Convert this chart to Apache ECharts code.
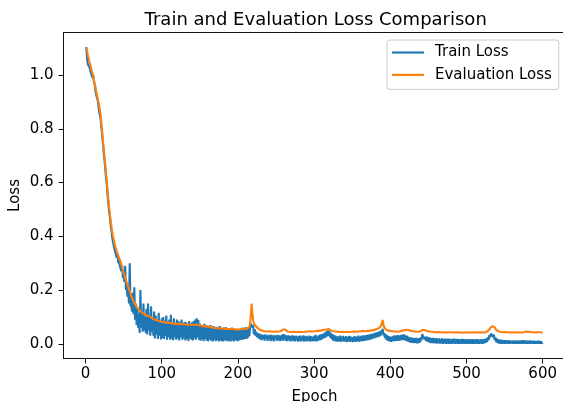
<!DOCTYPE html>
<html>
<head>
<meta charset="utf-8">
<script src="https://cdn.jsdelivr.net/npm/echarts@6/dist/echarts.min.js"></script>
<style>html,body{margin:0;padding:0;background:#fff}#c{width:563px;height:402px}</style>
</head>
<body>
<div id="c"></div>
<script>
const TITLE = "Train and Evaluation Loss Comparison";
const X_NAME = "Epoch";
const Y_NAME = "Loss";
const SERIES_NAMES = ["Train Loss", "Evaluation Loss"];
const X_TICKS = [0, 100, 200, 300, 400, 500, 600];
const Y_TICKS = [0.0, 0.2, 0.4, 0.6, 0.8, 1.0];
const X_RANGE = [-28.95, 629.95];
const Y_RANGE = [-0.0547, 1.1586];

const trainLoss = [
1.104,1.060,1.040,1.045,1.030,1.035,1.010,1.000,0.990,1.002,
0.975,0.965,0.940,0.945,0.915,0.905,0.885,0.860,0.850,0.830,
0.800,0.770,0.740,0.705,0.680,0.645,0.615,0.590,0.550,0.520,
0.490,0.470,0.440,0.420,0.395,0.390,0.365,0.360,0.340,0.345,
0.320,0.330,0.300,0.310,0.290,0.295,0.270,0.290,0.245,0.260,
0.230,0.290,0.200,0.220,0.175,0.205,0.150,0.300,0.140,0.150,
0.120,0.190,0.110,0.210,0.090,0.150,0.070,0.130,0.060,0.110,
0.040,0.200,0.060,0.120,0.045,0.150,0.050,0.100,0.040,0.130,
0.035,0.150,0.050,0.110,0.030,0.140,0.045,0.095,0.030,0.120,
0.020,0.105,0.035,0.090,0.018,0.115,0.030,0.080,0.016,0.095,
0.022,0.100,0.018,0.085,0.030,0.105,0.015,0.075,0.025,0.090,
0.015,0.108,0.020,0.080,0.013,0.095,0.025,0.075,0.015,0.090,
0.020,0.085,0.012,0.078,0.025,0.090,0.015,0.072,0.020,0.082,
0.012,0.080,0.018,0.070,0.011,0.085,0.020,0.075,0.015,0.080,
0.012,0.085,0.020,0.090,0.015,0.095,0.025,0.088,0.015,0.075,
0.012,0.070,0.016,0.066,0.010,0.074,0.018,0.060,0.012,0.068,
0.010,0.064,0.016,0.070,0.012,0.060,0.009,0.066,0.015,0.058,
0.010,0.063,0.014,0.056,0.009,0.066,0.012,0.054,0.010,0.060,
0.009,0.056,0.014,0.062,0.010,0.052,0.012,0.058,0.009,0.054,
0.010,0.060,0.012,0.052,0.009,0.056,0.014,0.050,0.010,0.054,
0.012,0.052,0.014,0.056,0.015,0.060,0.016,0.055,0.018,0.062,
0.018,0.056,0.022,0.060,0.028,0.064,0.075,0.080,0.060,0.070,
0.035,0.055,0.030,0.045,0.025,0.040,0.020,0.038,0.017,0.035,
0.014,0.034,0.018,0.032,0.012,0.035,0.020,0.030,0.011,0.033,
0.016,0.031,0.010,0.034,0.015,0.029,0.009,0.032,0.017,0.030,
0.011,0.033,0.014,0.031,0.010,0.030,0.013,0.034,0.012,0.036,
0.016,0.033,0.011,0.030,0.010,0.031,0.014,0.029,0.009,0.030,
0.012,0.031,0.010,0.028,0.009,0.030,0.013,0.027,0.008,0.029,
0.011,0.030,0.009,0.027,0.012,0.031,0.008,0.028,0.011,0.029,
0.009,0.027,0.012,0.030,0.008,0.028,0.011,0.026,0.009,0.029,
0.011,0.033,0.009,0.027,0.012,0.031,0.013,0.034,0.015,0.036,
0.018,0.038,0.021,0.042,0.023,0.046,0.028,0.050,0.030,0.047,
0.024,0.041,0.017,0.036,0.012,0.032,0.010,0.030,0.009,0.028,
0.008,0.028,0.010,0.030,0.007,0.027,0.011,0.029,0.008,0.026,
0.009,0.028,0.006,0.026,0.010,0.029,0.007,0.027,0.009,0.025,
0.006,0.027,0.009,0.028,0.007,0.026,0.010,0.030,0.008,0.027,
0.009,0.029,0.011,0.031,0.010,0.030,0.012,0.032,0.013,0.033,
0.014,0.034,0.016,0.036,0.017,0.037,0.019,0.039,0.021,0.041,
0.023,0.042,0.025,0.044,0.027,0.046,0.029,0.050,0.038,0.056,
0.031,0.041,0.021,0.036,0.015,0.031,0.011,0.028,0.009,0.026,
0.007,0.027,0.009,0.029,0.011,0.031,0.010,0.030,0.012,0.032,
0.011,0.030,0.013,0.032,0.014,0.034,0.015,0.035,0.013,0.031,
0.011,0.029,0.008,0.026,0.006,0.024,0.004,0.023,0.005,0.022,
0.003,0.021,0.004,0.022,0.002,0.020,0.003,0.021,0.005,0.024,
0.013,0.036,0.027,0.034,0.017,0.026,0.010,0.027,0.008,0.025,
0.005,0.023,0.003,0.021,0.004,0.022,0.002,0.020,0.003,0.021,
0.001,0.019,0.003,0.020,0.001,0.018,0.002,0.020,0.000,0.018,
0.002,0.019,0.000,0.018,0.001,0.019,0.000,0.017,0.001,0.018,
0.000,0.018,0.002,0.019,0.000,0.017,0.001,0.018,0.000,0.017,
0.000,0.016,0.001,0.018,0.000,0.017,0.000,0.016,0.001,0.017,
0.000,0.016,0.000,0.017,0.001,0.016,0.000,0.017,0.000,0.016,
0.000,0.016,0.001,0.017,0.000,0.015,0.000,0.016,0.001,0.017,
0.000,0.016,0.002,0.018,0.004,0.020,0.007,0.024,0.014,0.032,
0.024,0.038,0.032,0.041,0.026,0.034,0.014,0.024,0.006,0.019,
0.003,0.016,0.001,0.015,0.000,0.014,0.001,0.013,0.000,0.013,
0.000,0.012,0.001,0.013,0.000,0.012,0.000,0.011,0.001,0.012,
0.000,0.011,0.000,0.012,0.001,0.011,0.000,0.012,0.000,0.011,
0.000,0.012,0.001,0.013,0.000,0.011,0.001,0.012,0.000,0.011,
0.000,0.011,0.000,0.012,0.001,0.010,0.000,0.011,0.000,0.010,
0.000,0.010,0.001,0.011,0.000,0.010,0.000,0.009,0.001,0.004
];

const evalLoss = [
1.100,1.090,1.075,1.062,1.050,1.040,1.030,1.018,1.008,0.995,
0.982,0.968,0.955,0.940,0.925,0.912,0.898,0.884,0.866,0.846,
0.812,0.785,0.750,0.722,0.690,0.662,0.632,0.600,0.565,0.536,
0.505,0.480,0.458,0.437,0.415,0.400,0.388,0.374,0.362,0.352,
0.344,0.336,0.328,0.320,0.313,0.305,0.296,0.286,0.275,0.265,
0.256,0.246,0.238,0.229,0.220,0.213,0.204,0.196,0.187,0.178,
0.171,0.165,0.158,0.152,0.146,0.142,0.139,0.134,0.130,0.127,
0.124,0.121,0.118,0.116,0.114,0.112,0.111,0.109,0.106,0.105,
0.104,0.104,0.103,0.101,0.102,0.099,0.096,0.094,0.092,0.091,
0.090,0.089,0.088,0.087,0.087,0.085,0.084,0.083,0.083,0.082,
0.081,0.081,0.080,0.079,0.080,0.078,0.079,0.078,0.077,0.078,
0.077,0.076,0.077,0.077,0.076,0.075,0.076,0.075,0.074,0.075,
0.074,0.075,0.073,0.074,0.073,0.073,0.072,0.074,0.072,0.073,
0.072,0.071,0.072,0.071,0.072,0.070,0.071,0.072,0.070,0.071,
0.070,0.072,0.071,0.069,0.070,0.071,0.072,0.070,0.069,0.068,
0.068,0.067,0.066,0.067,0.065,0.066,0.064,0.065,0.064,0.063,
0.064,0.063,0.062,0.063,0.061,0.062,0.060,0.061,0.060,0.059,
0.060,0.059,0.058,0.059,0.058,0.057,0.058,0.057,0.056,0.057,
0.056,0.057,0.055,0.056,0.055,0.056,0.054,0.055,0.056,0.054,
0.055,0.053,0.054,0.055,0.053,0.054,0.053,0.052,0.054,0.053,
0.052,0.053,0.054,0.052,0.053,0.055,0.054,0.053,0.055,0.056,
0.055,0.057,0.058,0.060,0.062,0.075,0.110,0.150,0.110,0.088,
0.076,0.072,0.068,0.064,0.061,0.058,0.056,0.054,0.052,0.051,
0.050,0.049,0.048,0.049,0.047,0.048,0.047,0.046,0.047,0.048,
0.047,0.046,0.047,0.046,0.047,0.046,0.045,0.046,0.047,0.046,
0.046,0.047,0.046,0.045,0.046,0.047,0.048,0.050,0.053,0.057,
0.059,0.053,0.049,0.047,0.046,0.045,0.046,0.045,0.046,0.045,
0.044,0.045,0.046,0.045,0.044,0.045,0.044,0.045,0.046,0.045,
0.044,0.045,0.044,0.046,0.045,0.044,0.045,0.046,0.045,0.044,
0.045,0.046,0.045,0.046,0.047,0.046,0.045,0.046,0.047,0.046,
0.047,0.046,0.047,0.048,0.047,0.048,0.049,0.048,0.049,0.050,
0.051,0.050,0.052,0.053,0.054,0.053,0.055,0.056,0.055,0.054,
0.052,0.050,0.049,0.048,0.047,0.046,0.047,0.046,0.045,0.046,
0.045,0.046,0.045,0.044,0.045,0.046,0.045,0.044,0.045,0.044,
0.045,0.044,0.045,0.046,0.045,0.044,0.045,0.044,0.045,0.046,
0.045,0.046,0.047,0.046,0.045,0.046,0.047,0.046,0.047,0.046,
0.047,0.046,0.047,0.048,0.047,0.046,0.047,0.048,0.047,0.048,
0.049,0.048,0.049,0.050,0.049,0.050,0.051,0.052,0.051,0.053,
0.054,0.055,0.056,0.057,0.058,0.060,0.063,0.068,0.078,0.089,
0.072,0.062,0.056,0.053,0.051,0.050,0.049,0.050,0.049,0.048,
0.049,0.048,0.047,0.048,0.047,0.046,0.047,0.046,0.045,0.046,
0.045,0.046,0.047,0.048,0.049,0.050,0.051,0.050,0.052,0.053,
0.052,0.053,0.052,0.051,0.050,0.049,0.048,0.047,0.046,0.047,
0.046,0.045,0.046,0.045,0.044,0.045,0.044,0.045,0.046,0.047,
0.049,0.051,0.053,0.052,0.051,0.050,0.049,0.048,0.047,0.046,
0.046,0.045,0.046,0.045,0.044,0.045,0.044,0.045,0.044,0.043,
0.044,0.043,0.044,0.043,0.044,0.043,0.044,0.043,0.042,0.043,
0.042,0.043,0.042,0.043,0.042,0.043,0.042,0.043,0.042,0.043,
0.043,0.042,0.043,0.042,0.043,0.042,0.043,0.042,0.043,0.042,
0.042,0.043,0.042,0.043,0.042,0.041,0.042,0.043,0.042,0.043,
0.042,0.043,0.042,0.041,0.042,0.043,0.042,0.043,0.042,0.043,
0.042,0.043,0.042,0.043,0.042,0.041,0.042,0.043,0.042,0.043,
0.042,0.043,0.042,0.043,0.043,0.044,0.045,0.047,0.050,0.055,
0.058,0.062,0.065,0.066,0.067,0.065,0.061,0.056,0.052,0.050,
0.048,0.047,0.046,0.045,0.044,0.045,0.044,0.043,0.044,0.043,
0.044,0.043,0.042,0.043,0.042,0.043,0.042,0.043,0.042,0.043,
0.042,0.043,0.042,0.043,0.042,0.043,0.042,0.043,0.042,0.043,
0.043,0.042,0.043,0.044,0.043,0.044,0.045,0.046,0.047,0.046,
0.045,0.044,0.043,0.044,0.043,0.042,0.043,0.042,0.043,0.042,
0.043,0.042,0.043,0.042,0.042,0.043,0.042,0.043,0.042,0.042
];

const epochs = trainLoss.map((_, i) => i + 1);

const FONT = "DejaVu Sans";
const LEGEND_ICON = 'path://M0,0 L32,0 L32,2.2 L0,2.2 Z';
const chart = echarts.init(document.getElementById('c'), null, {renderer: 'canvas'});

const option = {
  animation: false,
  backgroundColor: '#ffffff',
  textStyle: {fontFamily: FONT},
  title: {
    text: TITLE,
    left: 315.7,
    textAlign: 'center',
    top: 11,
    padding: 0,
    textStyle: {fontFamily: FONT, fontSize: 18, fontWeight: 'normal', color: '#000'}
  },
  legend: {
    orient: 'vertical',
    left: 387,
    top: 40,
    padding: [5, 7, 7, 5],
    itemWidth: 32,
    itemHeight: 14,
    itemGap: 7.4,
    borderColor: '#cccccc',
    borderWidth: 1,
    borderRadius: 3,
    backgroundColor: 'rgba(255,255,255,0.8)',
    textStyle: {fontFamily: FONT, fontSize: 15, color: '#000', padding: [0, 0, 0, 6]},
    data: SERIES_NAMES.map(n => ({name: n, icon: LEGEND_ICON}))
  },
  grid: {
    left: 63.5, top: 32.5, width: 502, height: 326,
    outerBoundsMode: 'none',
    containLabel: false,
    show: true, borderColor: '#111', borderWidth: 1, backgroundColor: 'transparent'
  },
  xAxis: {
    type: 'value',
    min: X_RANGE[0], max: X_RANGE[1],
    name: X_NAME, nameLocation: 'middle', nameGap: 31, nameMoveOverlap: false,
    nameTextStyle: {fontFamily: FONT, fontSize: 15, color: '#000'},
    axisLine: {show: true, onZero: false, lineStyle: {color: '#111', width: 1}},
    axisTick: {show: true, length: 5, customValues: X_TICKS, lineStyle: {color: '#111', width: 1}},
    axisLabel: {customValues: X_TICKS, margin: 8, fontFamily: FONT, fontSize: 15, color: '#000'},
    splitLine: {show: false}
  },
  yAxis: {
    type: 'value',
    min: Y_RANGE[0], max: Y_RANGE[1],
    name: Y_NAME, nameLocation: 'middle', nameGap: 41, nameMoveOverlap: false,
    nameTextStyle: {fontFamily: FONT, fontSize: 15, color: '#000'},
    axisLine: {show: true, onZero: false, lineStyle: {color: '#111', width: 1}},
    axisTick: {show: true, length: 5, customValues: Y_TICKS, lineStyle: {color: '#111', width: 1}},
    axisLabel: {customValues: Y_TICKS, margin: 10, fontFamily: FONT, fontSize: 15, color: '#000',
      formatter: v => v.toFixed(1)},
    splitLine: {show: false}
  },
  series: [
    {
      name: SERIES_NAMES[0], type: 'line', symbol: 'none', showSymbol: false,
      data: epochs.map((e, i) => [e, trainLoss[i]]),
      lineStyle: {color: '#1f77b4', width: 2.1}, itemStyle: {color: '#1f77b4'},
      z: 2
    },
    {
      name: SERIES_NAMES[1], type: 'line', symbol: 'none', showSymbol: false,
      data: epochs.map((e, i) => [e, evalLoss[i]]),
      lineStyle: {color: '#ff7f0e', width: 2.1}, itemStyle: {color: '#ff7f0e'},
      z: 3
    }
  ]
};
chart.setOption(option);
</script>
</body>
</html>
